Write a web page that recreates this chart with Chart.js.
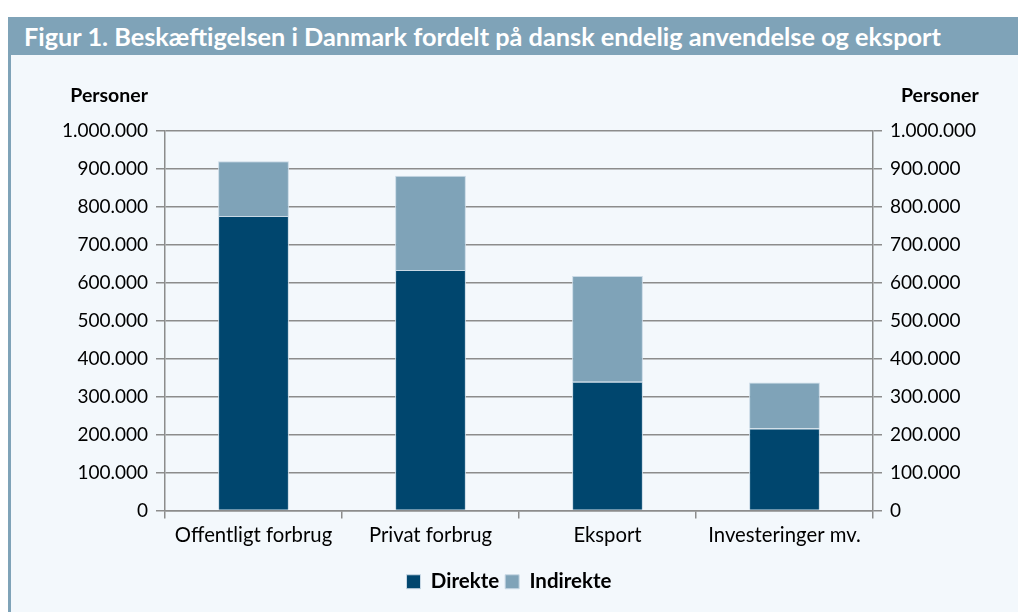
<!DOCTYPE html>
<html lang="da">
<head>
<meta charset="utf-8">
<script src="https://cdn.jsdelivr.net/npm/chart.js@4/dist/chart.umd.min.js"></script>
<style>
  html, body { margin: 0; padding: 0; background: #ffffff; }
  .frame {
    position: relative;
    width: 1018px;
    height: 612px;
    background: #f3f8fc;
    overflow: hidden;
  }
  .top-white { position: absolute; left: 0; top: 0; width: 1018px; height: 17px; background: #ffffff; }
  .side-white { position: absolute; left: 0; top: 0; width: 8px; height: 612px; background: #ffffff; }
  .side-strip { position: absolute; left: 8px; top: 17px; width: 3px; height: 595px; background: #7fa3b8; }
  .title-bar {
    position: absolute;
    left: 8px;
    top: 17px;
    width: 1010px;
    height: 38px;
    background: #7fa3b8;
    color: #ffffff;
    font-family: Lato, "Open Sans", sans-serif;
    font-weight: 700;
    font-size: 25.3px;
    line-height: 38px;
    padding-left: 16px;
    box-sizing: border-box;
    white-space: nowrap;
  }
  canvas { position: absolute; left: 0; top: 0; }
</style>
</head>
<body>
<div class="frame">
  <div class="top-white"></div>
  <div class="side-white"></div>
  <div class="side-strip"></div>
  <div class="title-bar">Figur 1. Beskæftigelsen i Danmark fordelt på dansk endelig anvendelse og eksport</div>
  <div style="position:absolute;left:0;top:0;width:1018px;height:612px;">
    <canvas id="chart" width="1018" height="612"></canvas>
  </div>
</div>
<script>
const categories = ['Offentligt forbrug', 'Privat forbrug', 'Eksport', 'Investeringer mv.'];
const direkte = [776000, 634000, 339000, 216000];
const indirekte = [144000, 248000, 279000, 121000];
const yMin = 0;
const yMax = 1000000;
const yStep = 100000;
const axisTitle = 'Personer';

const darkBlue = '#00466e';
const lightBlue = '#7fa3b8';
const gridGray = '#8c8c8c';
const fontFamily = 'Lato, "Open Sans", sans-serif';
const tickFont = { family: fontFamily, size: 19 };

function formatDanish(value) {
  return value.toLocaleString('da-DK').replace(/\s/g, '.');
}

const personerLabels = {
  id: 'personerLabels',
  afterDraw(chart) {
    const { ctx } = chart;
    const left = chart.scales.y;
    const right = chart.scales.y2;
    ctx.save();
    ctx.fillStyle = '#000000';
    ctx.font = 'bold 19.5px ' + fontFamily;
    ctx.textBaseline = 'middle';
    ctx.textAlign = 'right';
    ctx.fillText(axisTitle, left.right - 17, 96);
    ctx.textAlign = 'left';
    ctx.fillText(axisTitle, right.left + 28, 96);
    ctx.restore();
  },
};

new Chart(document.getElementById('chart'), {
  type: 'bar',
  data: {
    labels: categories,
    datasets: [
      {
        label: 'Direkte',
        data: direkte,
        backgroundColor: darkBlue,
        borderColor: '#c9d9e5',
        borderWidth: 1,
        borderSkipped: 'bottom',
        barPercentage: 0.8,
        categoryPercentage: 0.5,
        yAxisID: 'y',
      },
      {
        label: 'Indirekte',
        data: indirekte,
        backgroundColor: lightBlue,
        borderColor: '#c9d9e5',
        borderWidth: 1,
        borderSkipped: 'bottom',
        barPercentage: 0.8,
        categoryPercentage: 0.5,
        yAxisID: 'y',
      },
    ],
  },
  options: {
    responsive: false,
    animation: false,
    layout: { padding: { top: 131, left: 0, right: 0, bottom: 10 } },
    plugins: {
      legend: {
        position: 'bottom',
        labels: {
          color: '#000000',
          font: { family: fontFamily, size: 20.5, weight: 'bold' },
          boxWidth: 14,
          boxHeight: 14,
          padding: 6,
          useBorderRadius: false,
        },
      },
      tooltip: { enabled: false },
    },
    scales: {
      x: {
        stacked: true,
        offset: true,
        grid: {
          offset: true,
          drawOnChartArea: false,
          color: gridGray,
          lineWidth: 1.5,
          tickLength: 8,
        },
        border: { color: gridGray, width: 1.5 },
        ticks: { color: '#000000', font: { family: fontFamily, size: 20.3 }, padding: 5 },
        afterFit(scale) { scale.height = 55; },
      },
      y: {
        stacked: true,
        position: 'left',
        min: yMin,
        max: yMax,
        ticks: {
          stepSize: yStep,
          color: '#000000',
          font: tickFont,
          padding: 8,
          callback: (v) => formatDanish(v),
        },
        grid: { color: gridGray, lineWidth: 1.5, tickLength: 9 },
        border: { color: gridGray, width: 1.5 },
        afterFit(scale) { scale.width = 165; },
      },
      y2: {
        position: 'right',
        min: yMin,
        max: yMax,
        ticks: {
          stepSize: yStep,
          color: '#000000',
          font: tickFont,
          padding: 8,
          callback: (v) => formatDanish(v),
        },
        grid: { drawOnChartArea: false, color: gridGray, lineWidth: 1.5, tickLength: 9 },
        border: { color: gridGray, width: 1.5 },
        afterFit(scale) { scale.width = 145; },
      },
    },
  },
  plugins: [personerLabels],
});
</script>
</body>
</html>
